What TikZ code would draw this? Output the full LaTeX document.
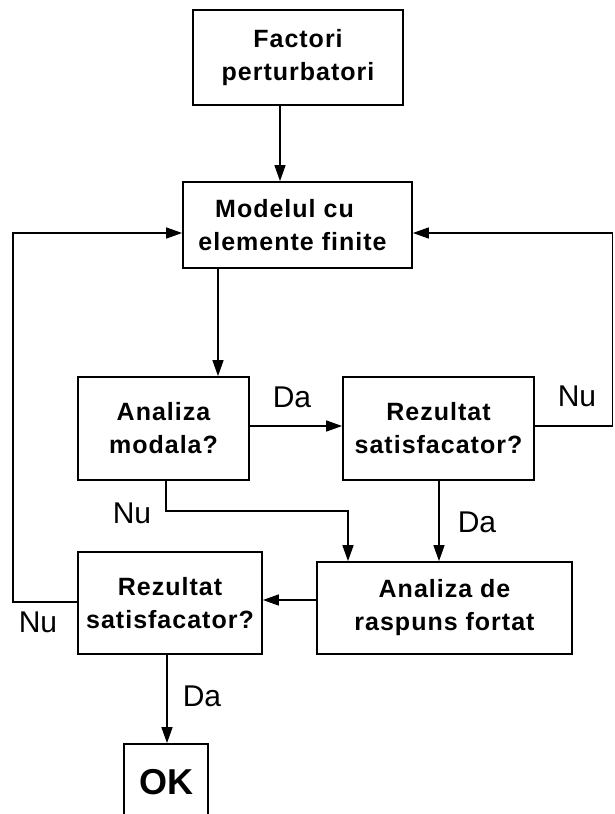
\documentclass[tikz,border=0pt]{standalone}
\usepackage{fontspec}
\setmainfont{Liberation Sans}
\newfontfamily\boxfont{Liberation Sans}[LetterSpace=4.0]
\usetikzlibrary{arrows.meta}
\tikzset{
  box/.style={draw, line width=1.8pt, align=center, inner sep=0pt,
    font=\boxfont\bfseries\fontsize{25}{33}\selectfont},
  conn/.style={line width=1.5pt},
  arr/.style={conn, -{Triangle[length=16pt,width=11pt]}},
  lbl/.style={font=\fontsize{30}{31}\selectfont, inner sep=0pt}
}
\begin{document}
\begin{tikzpicture}[x=1pt,y=-1pt]
\useasboundingbox[fill=white] (0,0) rectangle (614,814);
% boxes
\node[box, minimum width=210pt, minimum height=95pt] (fac) at (298,57.5) {Factori\\perturbatori};
\node[box, minimum width=229pt, minimum height=86pt] (mod) at (297.5,225) {Modelul cu\hspace*{26pt}\\elemente finite\hspace*{10pt}};
\node[box, minimum width=171pt, minimum height=103pt] (ana) at (163.5,428.5) {Analiza\\modala?};
\node[box, minimum width=191pt, minimum height=103pt] (rez1) at (438.5,428.5) {Rezultat\\satisfacator?};
\node[box, minimum width=255pt, minimum height=92pt] (arf) at (444.5,608) {Analiza de\\raspuns fortat};
\node[box, minimum width=184pt, minimum height=102pt] (rez2) at (170,603) {Rezultat\\satisfacator?};
\node[box, minimum width=84pt, minimum height=76pt, font=\bfseries\fontsize{36}{40}\selectfont] (ok) at (166,782) {OK};
% corner coordinates
\coordinate (rc1) at (612.5,426);
\coordinate (rc2) at (612.5,233);
\coordinate (lc1) at (13,602);
\coordinate (lc2) at (13,233);
\coordinate (nc1) at (166,511);
\coordinate (nc2) at (348,511);
% connectors
\draw[arr] (fac.south -| 280,0) -- (mod.north -| 280,0);
\draw[arr] (mod.south -| 218,0) -- (ana.north -| 218,0);
\draw[arr] (ana.east |- 0,426) -- (rez1.west |- 0,426);
\draw[arr] (rez1.east |- 0,426) -- (rc1) -- (rc2) -- (mod.east |- 0,233);
\draw[arr] (rez2.west |- 0,602) -- (lc1) -- (lc2) -- (mod.west |- 0,233);
\draw[arr] (ana.south -| nc1) -- (nc1) -- (nc2) -- (arf.north -| nc2);
\draw[arr] (rez1.south -| 439,0) -- (arf.north -| 439,0);
\draw[arr] (arf.west |- 0,600) -- (rez2.east |- 0,600);
\draw[arr] (rez2.south -| 167,0) -- (ok.north -| 167,0);
% labels
\node[lbl] (l1) at (292,397) {Da};
\node[lbl] (l2) at (577,396) {Nu};
\node[lbl] (l3) at (132,513) {Nu};
\node[lbl] (l4) at (477,522) {Da};
\node[lbl] (l5) at (38,622) {Nu};
\node[lbl] (l6) at (202,696) {Da};
\end{tikzpicture}
\end{document}
